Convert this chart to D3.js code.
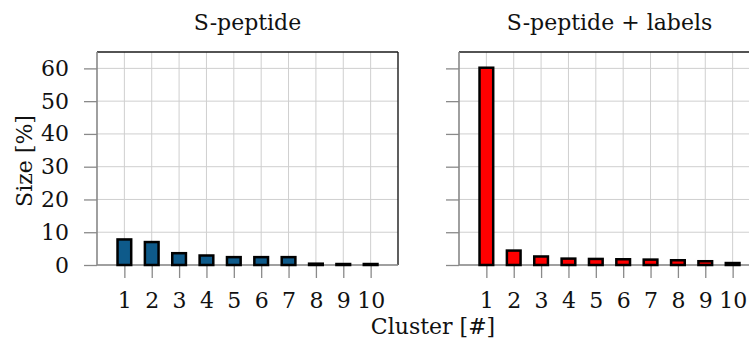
<!DOCTYPE html>
<html>
<head>
<meta charset="utf-8">
<script src="https://cdn.jsdelivr.net/npm/d3@7"></script>
<style>
  body { margin: 0; background: #fff; }
  svg { display: block; font-family: "DejaVu Serif", serif; }
</style>
</head>
<body>
<svg width="749" height="343"></svg>
<script>
// data
let clusters = [1, 2, 3, 4, 5, 6, 7, 8, 9, 10];
let sPeptide = [7.8, 7.0, 3.6, 2.9, 2.4, 2.4, 2.4, 0.4, 0.3, 0.3];
let sPeptideLabels = [60.2, 4.4, 2.6, 1.95, 1.85, 1.75, 1.65, 1.45, 1.15, 0.6];
let yTicks = [0, 10, 20, 30, 40, 50, 60];
let titles = ["S-peptide", "S-peptide + labels"];

let svg = d3.select("svg");
let fontSize = 22;

let plotTop = 52, plotBottom = 265, panelW = 301;
let panels = [
    {x0: 97, values: sPeptide, fill: "#0e5a8a", title: titles[0], labels: true},
    {x0: 459, values: sPeptideLabels, fill: "#ff0000", title: titles[1], labels: false}
];

let y = d3.scaleLinear().domain([0, 65]).range([plotBottom, plotTop]);

panels.forEach(function (p) {
    let x = d3.scaleLinear().domain([0, 11]).range([p.x0, p.x0 + panelW]);
    let g = svg.append("g");

    // grid
    g.append("g").selectAll("line")
        .data(yTicks)
        .enter()
        .append("line")
        .attr("x1", x(0)).attr("x2", x(11))
        .attr("y1", d => y(d)).attr("y2", d => y(d))
        .attr("stroke", "#cfcfcf").attr("stroke-width", 1);
    g.append("g").selectAll("line")
        .data(clusters)
        .enter()
        .append("line")
        .attr("x1", d => x(d)).attr("x2", d => x(d))
        .attr("y1", y(0)).attr("y2", y(65))
        .attr("stroke", "#cfcfcf").attr("stroke-width", 1);

    // axes
    let yAxis = d3.axisLeft(y).tickValues(yTicks).tickSize(13).tickPadding(15)
        .tickFormat(p.labels ? d3.format("d") : "");
    let ya = g.append("g").attr("transform", "translate(" + x(0) + ",0)").call(yAxis);
    let xAxis = d3.axisBottom(x).tickValues(clusters).tickSize(13).tickFormat(d3.format("d"));
    let xa = g.append("g").attr("transform", "translate(0," + y(0) + ")").call(xAxis);

    [ya, xa].forEach(function (a) {
        a.select(".domain").remove();
        a.selectAll(".tick line").attr("stroke", "#8a8a8a").attr("stroke-width", 1.3);
        a.selectAll("text").attr("font-size", fontSize).attr("font-family", "DejaVu Serif").attr("fill", "#111");
    });
    xa.selectAll("text").attr("y", 43).attr("dy", 0);

    // frame: top/right black, left/bottom gray
    g.append("line").attr("x1", x(0)).attr("x2", x(11)).attr("y1", y(65)).attr("y2", y(65))
        .attr("stroke", "#1a1a1a").attr("stroke-width", 1.4);
    g.append("line").attr("x1", x(11)).attr("x2", x(11)).attr("y1", y(65)).attr("y2", y(0))
        .attr("stroke", "#1a1a1a").attr("stroke-width", 1.4);
    g.append("line").attr("x1", x(0)).attr("x2", x(0)).attr("y1", y(65)).attr("y2", y(0))
        .attr("stroke", "#888").attr("stroke-width", 1.6);
    g.append("line").attr("x1", x(0)).attr("x2", x(11)).attr("y1", y(0)).attr("y2", y(0))
        .attr("stroke", "#888").attr("stroke-width", 1.6);

    // bars
    g.append("g").selectAll("rect")
        .data(p.values)
        .enter()
        .append("rect")
        .attr("x", (d, i) => x(clusters[i] - 0.25))
        .attr("width", x(0.5) - x(0))
        .attr("y", d => y(d))
        .attr("height", d => y(0) - y(d))
        .attr("fill", p.fill)
        .attr("stroke", "#000")
        .attr("stroke-width", 2.5);

    // title
    g.append("text")
        .attr("x", (x(0) + x(11)) / 2)
        .attr("y", 30)
        .attr("text-anchor", "middle")
        .attr("font-size", fontSize)
        .attr("fill", "#111")
        .text(p.title);
});

svg.append("text")
    .attr("transform", "translate(32,161) rotate(-90)")
    .attr("text-anchor", "middle")
    .attr("font-size", fontSize)
    .attr("fill", "#111")
    .text("Size [%]");

svg.append("text")
    .attr("x", 433)
    .attr("y", 334)
    .attr("text-anchor", "middle")
    .attr("font-size", fontSize)
    .attr("fill", "#111")
    .text("Cluster [#]");
</script>
</body>
</html>
